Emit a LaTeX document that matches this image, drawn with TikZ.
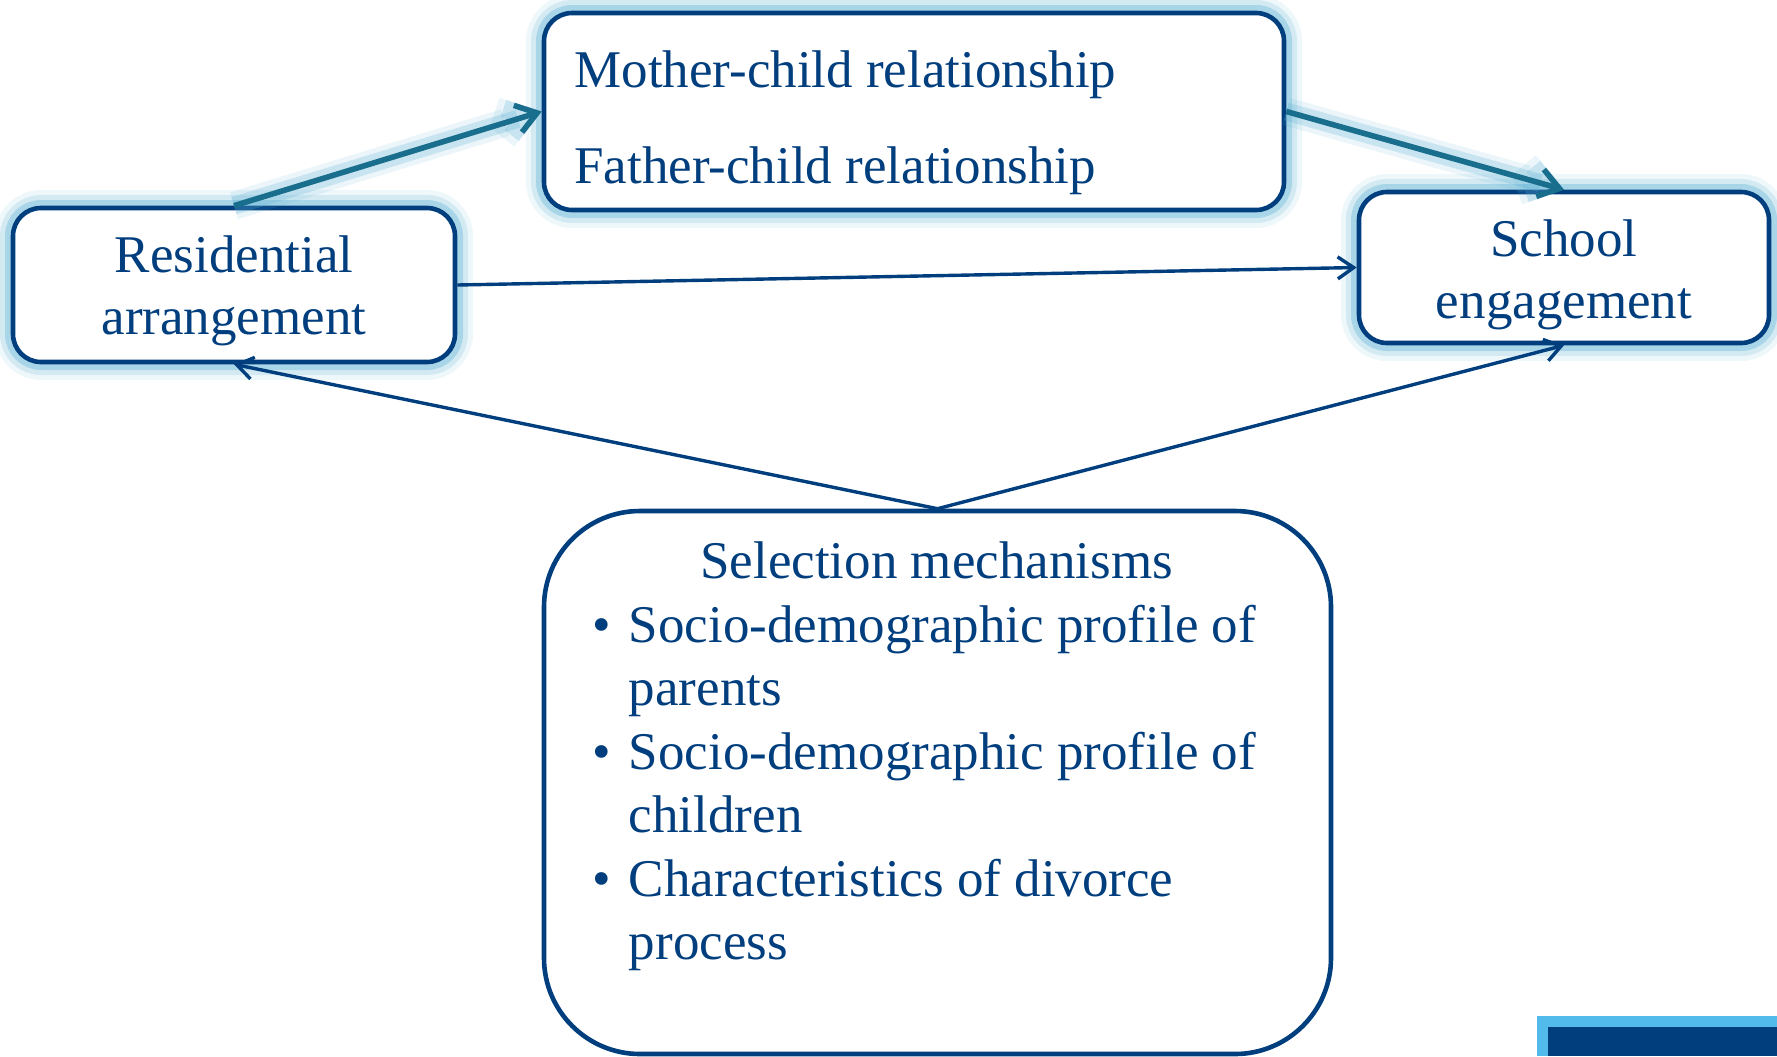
\documentclass[tikz,border=0pt]{standalone}
\usepackage{fontspec}
\setmainfont{Liberation Serif}
\usetikzlibrary{arrows.meta}
\definecolor{dblue}{RGB}{0,62,126}
\definecolor{tealc}{RGB}{24,110,140}
\definecolor{glowc}{RGB}{90,175,210}
\definecolor{lblue}{RGB}{82,187,235}
\tikzset{
  glowbox/.style={draw=dblue, line width=2.3pt, fill=white, rounded corners=14pt, inner sep=0pt,
    preaction={draw=glowc, line width=18pt, opacity=0.1},
    preaction={draw=glowc, line width=13pt, opacity=0.18},
    preaction={draw=glowc, line width=8pt, opacity=0.35}},
  plainbox/.style={draw=dblue, line width=2.3pt, fill=white, rounded corners=48pt, inner sep=0pt},
  txt/.style={text=dblue, inner sep=0pt},
  thickarrow/.style={draw=tealc, line width=2.8pt, -{Straight Barb[length=10pt,width=14pt]},
    preaction={draw=glowc, line width=14pt, opacity=0.12, -{Straight Barb[length=10pt,width=14pt]}},
    preaction={draw=glowc, line width=9pt, opacity=0.25, -{Straight Barb[length=10pt,width=14pt]}}},
  thinarrow/.style={draw=dblue, line width=1.7pt, -{Straight Barb[length=8pt,width=11pt]}}
}
\begin{document}
\begin{tikzpicture}[x=0.5pt,y=-0.5pt]
\useasboundingbox (0,0) rectangle (1777,1056);
% boxes
\node[glowbox, minimum width=370pt, minimum height=98.5pt] (top) at (914,111.5) {};
\node[glowbox, minimum width=221pt, minimum height=77pt] (res) at (234,285) {};
\node[glowbox, minimum width=205pt, minimum height=75.5pt] (sch) at (1564,267.5) {};
\node[plainbox, minimum width=393.5pt, minimum height=271.5pt] (sel) at (937.5,782.5) {};
% texts
\node[txt, anchor=base west, font=\fontsize{26.5pt}{48pt}\selectfont] (toptext) at (574,87)
  {\begin{tabular}[t]{@{}l@{}}Mother-child relationship\\ Father-child relationship\end{tabular}};
\node[txt, anchor=base, font=\fontsize{26.5pt}{31pt}\selectfont] (restext) at (234,272)
  {\begin{tabular}[t]{@{}c@{}}Residential\\ arrangement\end{tabular}};
\node[txt, anchor=base, font=\fontsize{26.5pt}{31pt}\selectfont] (schtext) at (1564,256)
  {\begin{tabular}[t]{@{}c@{}}School\\ engagement\end{tabular}};
\node[txt, anchor=base west, font=\fontsize{26.5pt}{31.75pt}\selectfont] (seltext) at (592,578.5)
  {\begin{tabular}[t]{@{}l@{\hspace{9pt}}l@{}}
   \multicolumn{2}{@{}l@{}}{\hspace*{54pt}Selection mechanisms}\\
   •& Socio-demographic profile of\\
    & parents\\
   •& Socio-demographic profile of\\
    & children\\
   •& Characteristics of divorce\\
    & process
   \end{tabular}};
% connectors
\draw[thickarrow] (res.north) -- (top.west);
\draw[thickarrow] (top.east) -- (sch.north);
\draw[thinarrow] (res.east) -- (sch.west);
\draw[thinarrow] (sel.north) -- (res.south);
\draw[thinarrow] (sel.north) -- (sch.south);
% corner decoration
\fill[lblue] (1537,1016) rectangle (1777,1056);
\fill[dblue] (1548,1027) rectangle (1777,1056);
\end{tikzpicture}
\end{document}
